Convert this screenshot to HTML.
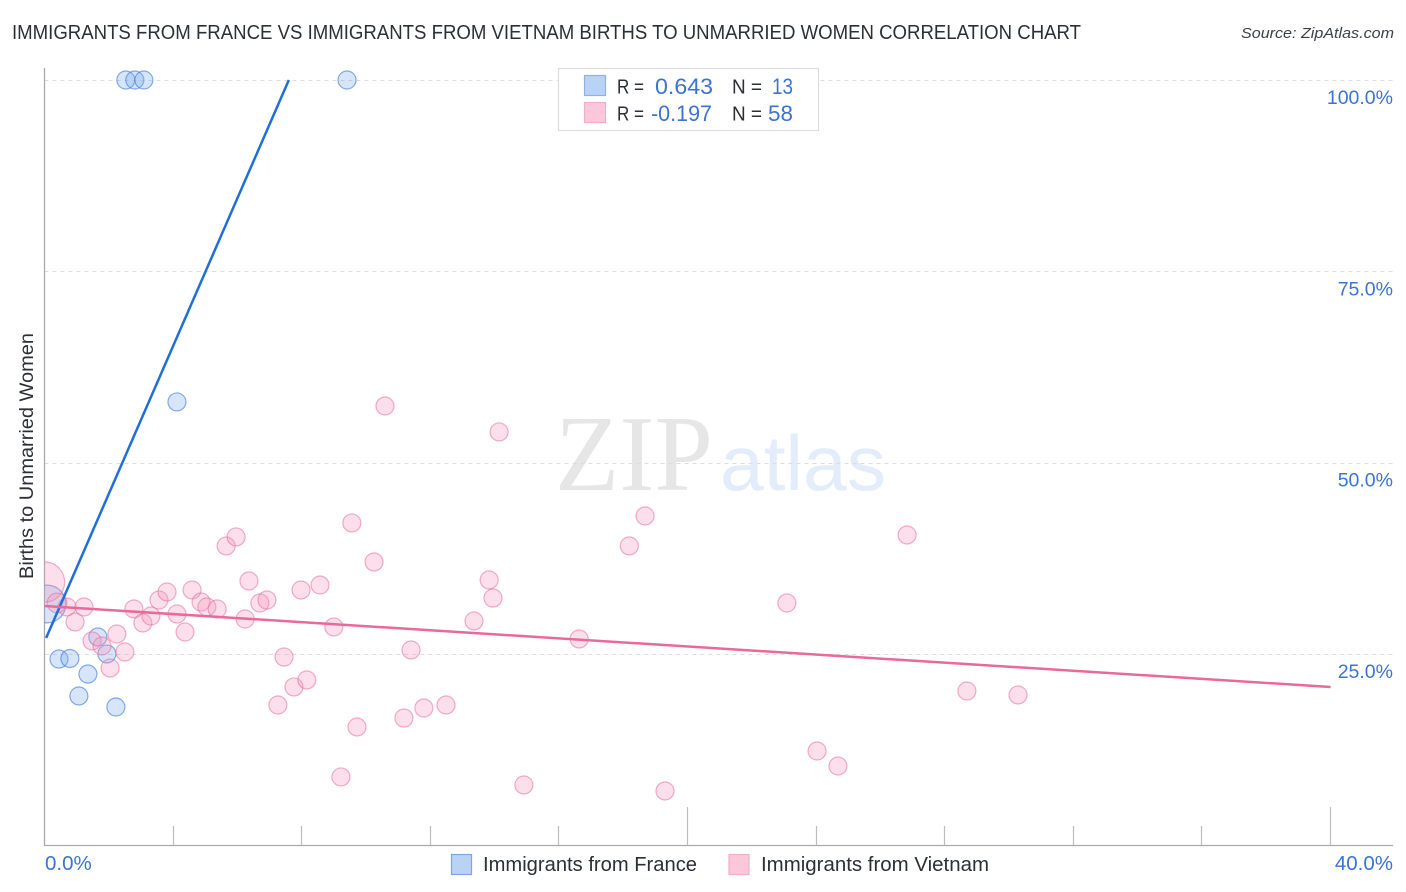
<!DOCTYPE html>
<html lang="en">
<head>
<meta charset="utf-8">
<title>Immigrants from France vs Immigrants from Vietnam Births to Unmarried Women Correlation Chart</title>
<style>
html,body{margin:0;padding:0;background:#fff;width:1406px;height:892px;overflow:hidden}
svg{display:block;font-family:"Liberation Sans",sans-serif}
</style>
</head>
<body>
<svg id="chart" width="1406" height="892" viewBox="0 0 1406 892" xmlns="http://www.w3.org/2000/svg">
  <defs><clipPath id="plot-clip"><rect x="44.5" y="60" width="1350" height="785"></rect></clipPath></defs>
  <text x="12" y="39" font-size="20" fill="#2b2f36" textLength="1069" lengthAdjust="spacingAndGlyphs">IMMIGRANTS FROM FRANCE VS IMMIGRANTS FROM VIETNAM BIRTHS TO UNMARRIED WOMEN CORRELATION CHART</text>
  <text x="1241" y="38" font-size="15" font-style="italic" fill="#3c4048" textLength="153" lengthAdjust="spacingAndGlyphs">Source: ZipAtlas.com</text>
  <g>
    <text x="555" y="490" font-family="'Liberation Serif',serif" font-size="108" fill="#e6e6e6" textLength="158" lengthAdjust="spacingAndGlyphs">ZIP</text>
    <text x="720" y="490" font-size="78" fill="#e3ecfa" textLength="166" lengthAdjust="spacingAndGlyphs">atlas</text>
  </g>
  <g id="grid"></g>
  <g id="axes"></g>
  <text transform="translate(33,579) rotate(-90)" font-size="19" fill="#2b2f36" textLength="246" lengthAdjust="spacingAndGlyphs">Births to Unmarried Women</text>
  <g id="marks" clip-path="url(#plot-clip)"></g>
  <g>
    <rect x="558.5" y="68.5" width="260" height="62" fill="#fff" stroke="#dcdcdc" stroke-width="1.2"></rect>
    <rect x="584.5" y="75.5" width="21" height="20" fill="#b9d3f7" stroke="#8fb1e6" stroke-width="1.2"></rect>
    <rect x="584.5" y="102.5" width="21" height="20" fill="#fcc8d9" stroke="#efaec4" stroke-width="1.2"></rect>
    <text x="617" y="93.5" font-size="20" fill="#2b2f36" textLength="27" lengthAdjust="spacingAndGlyphs">R =</text>
    <text x="655" y="94" font-size="22" fill="#3a74d0" textLength="58" lengthAdjust="spacingAndGlyphs">0.643</text>
    <text x="732" y="93.5" font-size="20" fill="#2b2f36" textLength="30" lengthAdjust="spacingAndGlyphs">N =</text>
    <text x="772" y="94" font-size="22" fill="#3a74d0" textLength="21" lengthAdjust="spacingAndGlyphs">13</text>
    <text x="617" y="120.5" font-size="20" fill="#2b2f36" textLength="27" lengthAdjust="spacingAndGlyphs">R =</text>
    <text x="651" y="121" font-size="22" fill="#3a74d0" textLength="61" lengthAdjust="spacingAndGlyphs">-0.197</text>
    <text x="732" y="120.5" font-size="20" fill="#2b2f36" textLength="30" lengthAdjust="spacingAndGlyphs">N =</text>
    <text x="768" y="121" font-size="22" fill="#3a74d0" textLength="25" lengthAdjust="spacingAndGlyphs">58</text>
  </g>
  <g>
    <rect x="451.5" y="854.5" width="20" height="20" fill="#b9d3f7" stroke="#7fa6e0" stroke-width="1.2"></rect>
    <text x="483" y="871" font-size="20" fill="#2b2f36" textLength="214" lengthAdjust="spacingAndGlyphs">Immigrants from France</text>
    <rect x="729" y="854.5" width="20" height="20" fill="#fcc8d9" stroke="#efaec4" stroke-width="1.2"></rect>
    <text x="761" y="871" font-size="20" fill="#2b2f36" textLength="228" lengthAdjust="spacingAndGlyphs">Immigrants from Vietnam</text>
  </g>
</svg>
<script>
const yTickValues = [100, 75, 50, 25];
const yTickLabels = ['100.0%', '75.0%', '50.0%', '25.0%'];
const xTickValues = [4, 8, 12, 16, 20, 24, 28, 32, 36, 40];
const xMajorTicks = [20, 40];
const xEndLabels = ['0.0%', '40.0%'];

const franceX = [2.53, 2.81, 3.09, 9.41, 4.12, 1.66, 1.94, 0.45, 0.79, 1.35, 1.07, 2.22, 0.08];
const franceY = [100, 100, 100, 100, 57.93, 27.22, 25.0, 24.34, 24.41, 22.38, 19.51, 18.07, 31.53];
const franceWeight = [1, 1, 1, 1, 1, 1, 1, 1, 1, 1, 1, 1, 4.4];

const vietnamX = [0, 0.39, 0.70, 1.23, 0.95, 1.48, 1.79, 2.25, 2.50, 2.04,
  2.78, 3.06, 3.31, 3.56, 3.81, 4.12, 4.37, 4.59, 4.87, 5.05,
  5.37, 6.24, 5.65, 5.96, 6.36, 6.70, 6.92, 7.45, 7.76, 7.26,
  7.98, 8.16, 8.57, 9.00, 9.22, 9.56, 9.72, 10.25, 10.59, 11.18,
  11.40, 11.80, 12.49, 13.36, 13.83, 13.95, 14.14, 14.91, 16.63, 18.19,
  18.68, 19.30, 23.09, 24.03, 24.68, 26.83, 28.69, 30.28];
const vietnamY = [34.40, 31.66, 31.14, 31.14, 29.18, 26.70, 26.04, 27.61, 25.26, 23.17,
  30.88, 29.05, 29.96, 32.05, 33.10, 30.22, 27.87, 33.36, 31.79, 31.14,
  30.88, 29.57, 39.11, 40.29, 34.54, 31.66, 32.05, 24.60, 20.69, 18.33,
  33.36, 21.60, 34.01, 28.53, 8.93, 42.12, 15.46, 37.02, 57.40, 16.63,
  25.52, 17.94, 18.33, 29.31, 34.67, 32.31, 54.01, 7.88, 26.96, 39.11,
  43.03, 7.10, 31.66, 12.32, 10.36, 40.55, 20.16, 19.64];
const vietnamWeight = [5.0, 1.2, 1, 1, 1, 1, 1, 1, 1, 1, 1, 1, 1, 1, 1, 1, 1, 1, 1, 1, 1, 1, 1, 1, 1, 1, 1, 1, 1, 1, 1, 1, 1, 1, 1, 1, 1, 1, 1, 1, 1, 1, 1, 1, 1, 1, 1, 1, 1, 1, 1, 1, 1, 1, 1, 1, 1, 1];

const franceTrendX = [0.05, 7.6];
const franceTrendY = [27.09, 100];
const vietnamTrendX = [0, 40];
const vietnamTrendY = [31.27, 20.69];

const SVG_NS = 'http://www.w3.org/2000/svg';
function xScale(v) { return 44.5 + v * 32.15; }
function yScale(v) { return 845.3 - v * 7.653; }
function make(tag, attrs, parent) {
  const el = document.createElementNS(SVG_NS, tag);
  Object.keys(attrs).forEach(function (k) { el.setAttribute(k, attrs[k]); });
  parent.appendChild(el);
  return el;
}
const grid = document.getElementById('grid');
const axes = document.getElementById('axes');
const marks = document.getElementById('marks');

yTickValues.forEach(function (v, i) {
  const y = Math.round(yScale(v)) + 0.5;
  const line = make('line', {x1: 44.5, x2: 1393, y1: y, y2: y, stroke: '#dcdcdc', 'stroke-width': 1, 'stroke-dasharray': '4 4'}, grid);
  
  
  const label = make('text', {x: 1393, y: yScale(v) + 24, 'font-size': 19.5, fill: '#3a74d0', 'text-anchor': 'end'}, axes);
  
  
  label.textContent = yTickLabels[i];
});

const yAxisLine = make('line', {x1: 44.5, x2: 44.5, y1: 68, y2: 845.5, stroke: '#aaaaaa', 'stroke-width': 1.3}, axes);


const xAxisLine = make('line', {x1: 44, x2: 1393, y1: 845.5, y2: 845.5, stroke: '#aaaaaa', 'stroke-width': 1.3}, axes);



xTickValues.forEach(function (v) {
  const x = Math.floor(xScale(v)) + 0.5;
  const top = xMajorTicks.indexOf(v) >= 0 ? 807 : 826;
  const tick = make('line', {x1: x, x2: x, y1: top, y2: 845, stroke: '#bdbdbd', 'stroke-width': 1.2}, axes);
  
  
});

const xLabelStart = make('text', {x: 45, y: 870, 'font-size': 20.5, fill: '#3a74d0'}, axes);


xLabelStart.textContent = xEndLabels[0];
const xLabelEnd = make('text', {x: 1393, y: 870, 'font-size': 20.5, fill: '#3a74d0', 'text-anchor': 'end'}, axes);


xLabelEnd.textContent = xEndLabels[1];

franceX.forEach(function (v, i) {
  const dot = make('circle', {cx: xScale(v), cy: yScale(franceY[i]), r: 9 * Math.sqrt(franceWeight[i]), fill: 'rgba(120,170,240,0.3)', stroke: 'rgba(60,120,215,0.6)', 'stroke-width': 1.2}, marks);
  
  
});
vietnamX.forEach(function (v, i) {
  const dot = make('circle', {cx: xScale(v), cy: yScale(vietnamY[i]), r: 9 * Math.sqrt(vietnamWeight[i]), fill: 'rgba(245,150,185,0.3)', stroke: 'rgba(230,110,155,0.55)', 'stroke-width': 1.2}, marks);
  
  
});

const franceTrend = make('line', {x1: xScale(franceTrendX[0]), y1: yScale(franceTrendY[0]), x2: xScale(franceTrendX[1]), y2: yScale(franceTrendY[1]), stroke: '#1f6fd8', 'stroke-width': 2.5}, marks);


const vietnamTrend = make('line', {x1: xScale(vietnamTrendX[0]), y1: yScale(vietnamTrendY[0]), x2: xScale(vietnamTrendX[1]), y2: yScale(vietnamTrendY[1]), stroke: '#e8699a', 'stroke-width': 2.5}, marks);


</script>
</body>
</html>
